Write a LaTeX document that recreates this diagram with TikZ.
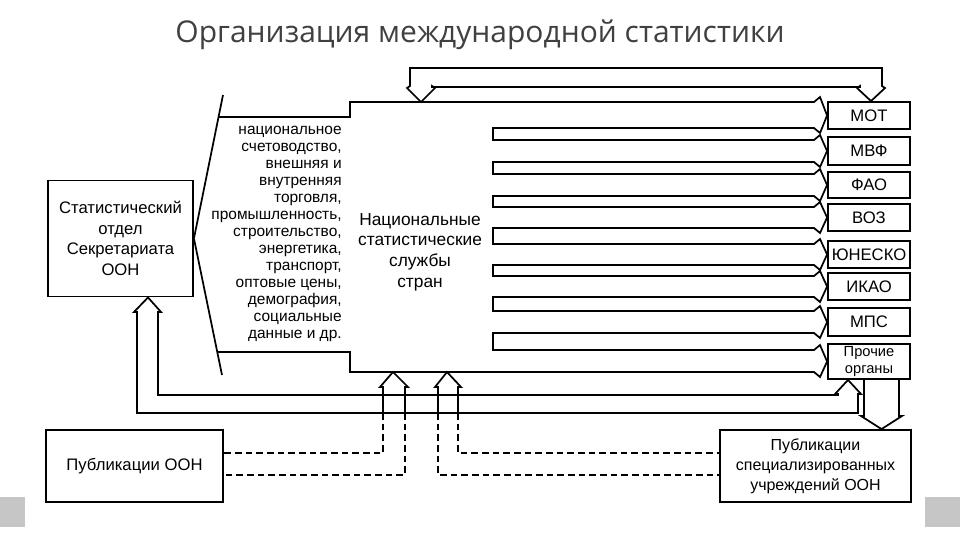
\documentclass[tikz,border=0pt]{standalone}
\usepackage{fontspec}
\setmainfont{Liberation Sans}
\newfontfamily\titlefont{Open Sans}
\begin{document}
\begin{tikzpicture}[x=0.75pt,y=-0.75pt,line width=1.3pt,line join=miter,
  box/.style={draw,line width=1.4pt,align=center,inner sep=0pt,font=\fontsize{12.5}{14.5}\selectfont},
  dsh/.style={line width=1.1pt,dash pattern=on 5pt off 3pt}]
\useasboundingbox (0,0) rectangle (960,540);
\fill[white] (0,0) rectangle (960,540);
\fill[gray!45] (0,497) rectangle (960,527);
\fill[white] (25,55) rectangle (925,527);
\node[font=\titlefont\fontsize{22.5}{26}\selectfont,text=black!75] (title) at (480,35) {Организация международной статистики};

% boxes (sizes in px * 0.75 = pt)
\node[box,minimum width=108.75pt,minimum height=87pt,font=\fontsize{12.5}{15.5}\selectfont] (stat) at (120.5,238.5) {Статистический\\отдел\\Секретариата\\ООН};
\node[box,minimum width=132.75pt,minimum height=54pt] (pubu) at (134.5,466) {Публикации ООН};
\node[box,minimum width=143.25pt,minimum height=54pt,font=\fontsize{12}{15}\selectfont] (pubs) at (815.5,466) {Публикации\\специализированных\\учреждений ООН};
\foreach \n/\t/\b/\txt in {mot/102/129/МОТ, mvf/137/165/МВФ, fao/172/198/ФАО, voz/204/231/ВОЗ, unesco/241/268/ЮНЕСКО, ikao/273/300/ИКАО, mps/308/336/МПС}
  \node[box,minimum width=61.5pt,minimum height={(\b-\t)*0.75pt}] (\n) at (869,{(\t+\b)/2}) {\txt};
\node[box,minimum width=61.5pt,minimum height=26.25pt,font=\fontsize{11}{12.5}\selectfont] (proch) at (869,361.5) {Прочие\\органы};

% funnel lines
\coordinate (fa) at (223,95); \coordinate (fb) at (222,375);
\draw (stat.east) -- (fa);
\draw (stat.east) -- (fb);

% national services outline with channels
\draw (218,117) -- (350,117) -- (350,102)
  -- (814,102) -- (820,97) -- (mot.west) -- (820,133) -- (814,128) -- (493,128)
  -- (493,140) -- (814,140) -- (820,135) -- (mvf.west) -- (820,167) -- (814,162) -- (493,162)
  -- (493,174) -- (814,174) -- (820,169) -- (fao.west) -- (820,201) -- (814,196) -- (493,196)
  -- (493,207) -- (814,207) -- (820,202) -- (voz.west) -- (820,233) -- (814,228) -- (493,228)
  -- (493,244) -- (814,244) -- (820,239) -- (unesco.west) -- (820,270) -- (814,265) -- (493,265)
  -- (493,276) -- (814,276) -- (820,271) -- (ikao.west) -- (820,302) -- (814,297) -- (493,297)
  -- (493,311) -- (814,311) -- (820,306) -- (mps.west) -- (820,338) -- (814,333) -- (493,333)
  -- (493,350) -- (814,350) -- (820,345) -- (proch.west) -- (820,377) -- (814,372)
  -- (350,372) -- (350,352) -- (218,352);
\node[font=\fontsize{13}{15.5}\selectfont,align=center] (nss) at (420,252) {Национальные\\статистические\\службы\\стран};
\node[font=\fontsize{11.6}{12.8}\selectfont,align=right,anchor=east] (topics) at (347,234)
 {национальное\\счетоводство,\\внешняя и\\внутренняя\\торговля,\\промышленность,\\строительство,\\энергетика,\\транспорт,\\оптовые цены,\\демография,\\социальные\\данные и др.};

% top loop
\draw (410,86) -- (410,68) -- (882,68) -- (882,86) -- (885,88) -- (mot.north -| 871,0) -- (857,88) -- (860,86) -- (860,87) -- (432,87) -- (432,86) -- (435,88) -- (421,102) -- (407,88) -- cycle;

% bottom loop
\draw (158,312) -- (161,312) -- (stat.south -| 148,0) -- (134,312) -- (137,312) -- (137,413) -- (858,413) -- (858,394) -- (861,394) -- (proch.south -| 848,0) -- (835,394) -- (838,394) -- (838,395) -- (158,395) -- cycle;

% arrows at NSS bottom
\draw (383,413) -- (383,387) -- (380,387) -- (393,372) -- (408,387) -- (405,387) -- (405,413);
\draw (438,413) -- (438,387) -- (435,387) -- (447,372) -- (461,387) -- (458,387) -- (458,413);
\draw[dsh] (383,413) -- (383,453) -- (pubu.east |- 0,453);
\draw[dsh] (405,413) -- (405,475) -- (pubu.east |- 0,475);
\draw[dsh] (458,413) -- (458,453) -- (pubs.west |- 0,453);
\draw[dsh] (438,413) -- (438,475) -- (pubs.west |- 0,475);

% arrow to specialized publications
\draw (864,379) -- (864,416) -- (861,416) -- (pubs.north -| 881.5,0) -- (902,416) -- (899,416) -- (899,379);
\end{tikzpicture}
\end{document}
